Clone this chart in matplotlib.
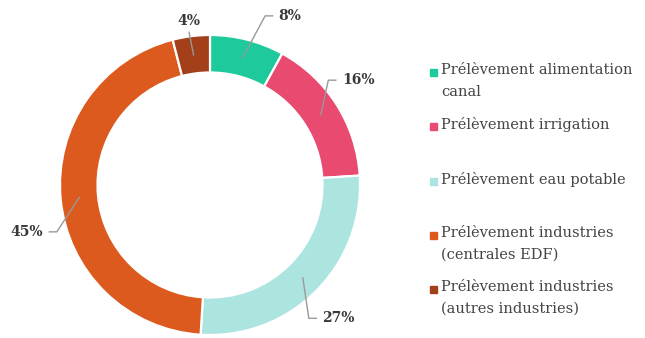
import numpy as np
import matplotlib.pyplot as plt

labels = ["Prélèvement alimentation\ncanal",
          "Prélèvement irrigation",
          "Prélèvement eau potable",
          "Prélèvement industries\n(centrales EDF)",
          "Prélèvement industries\n(autres industries)"]
values = [8, 16, 27, 45, 4]
colors = ["#1ec99b", "#e84a70", "#ace4e0", "#dd5a1e", "#a3401a"]

# elbow offsets of the leader lines (data units, relative to ring midpoint)
elbow = [(0.15, 0.28), (0.05, 0.23), (0.04, -0.27), (-0.15, -0.23), (-0.03, 0.15)]

plt.rcParams['font.family'] = ['DejaVu Serif']

fig = plt.figure(figsize=(6.45, 3.38), dpi=100)
ax = fig.add_axes([60 / 645, 3 / 338, 300 / 645, 300 / 338])
wedges, _ = ax.pie(values, startangle=90, counterclock=False, colors=colors,
                   radius=1.0,
                   wedgeprops=dict(width=0.25, edgecolor='white', linewidth=1.6))
ax.set_xlim(-1, 1)
ax.set_ylim(-1, 1)
ax.set_aspect('equal')
ax.axis('off')

# percentage labels with crooked connectors
total = sum(values)
for w, v, (dx, dy) in zip(wedges, values, elbow):
    ang = np.deg2rad((w.theta1 + w.theta2) / 2)
    r = 0.875
    x0, y0 = r * np.cos(ang), r * np.sin(ang)
    x1, y1 = x0 + dx, y0 + dy
    txt = f"{round(100 * v / total)}%"
    if abs(dx) < 0.04 and dy > 0 and x0 < 0:
        ax.plot([x0, x1], [y0, y1], color='#999999', lw=1, clip_on=False)
        ax.text(x1, y1 + 0.03, txt, ha='center', va='bottom', fontsize=10,
                color='#3a3a3a', fontweight='bold')
        continue
    side = 1 if dx >= 0 else -1
    x2 = x1 + side * 0.05
    ax.plot([x0, x1, x2], [y0, y1, y1], color='#999999', lw=1, clip_on=False)
    ax.text(x2 + side * 0.04, y1, txt, ha='left' if side > 0 else 'right',
            va='center', fontsize=10, color='#3a3a3a', fontweight='bold')

# legend drawn by hand
leg_y = [72, 126, 181, 235, 289]
for lab, col, y in zip(labels, colors, leg_y):
    fig.patches.append(plt.Rectangle((430 / 645, 1 - (y + 4) / 338), 7 / 645, 7 / 338,
                                     transform=fig.transFigure, color=col))
    fig.text(441 / 645, 1 - (y - 9) / 338, lab, ha='left', va='top', fontsize=10.5,
             color='#444444', linespacing=1.7)

fig.savefig("out.png", dpi=100)
